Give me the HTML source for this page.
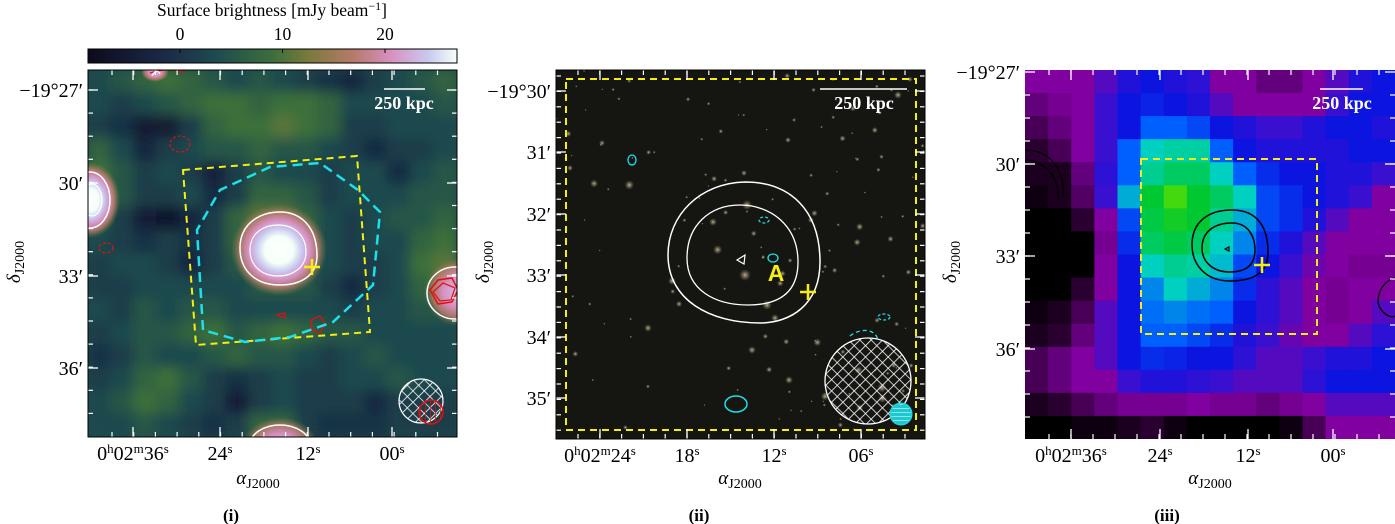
<!DOCTYPE html>
<html><head><meta charset="utf-8"><style>
html,body{margin:0;padding:0;background:#fff;width:1395px;height:524px;overflow:hidden}
svg{display:block;font-family:"Liberation Serif",serif}
</style></head><body>
<svg id="fig" width="1395" height="524" viewBox="0 0 1395 524" xmlns="http://www.w3.org/2000/svg">
<defs>
<filter id="blurA" x="-5%" y="-5%" width="110%" height="110%"><feGaussianBlur stdDeviation="6"/></filter>
<clipPath id="clipA"><rect x="88" y="70" width="369" height="367"/></clipPath>
<clipPath id="clipB"><rect x="556" y="70" width="369" height="369"/></clipPath>
<clipPath id="clipC"><rect x="1025" y="70" width="370" height="369"/></clipPath>
<linearGradient id="cbar" x1="0" x2="1" y1="0" y2="0">
<stop offset="0" stop-color="#0d0b1c"/><stop offset="0.2" stop-color="#1a2846"/><stop offset="0.35" stop-color="#1f4b4f"/><stop offset="0.5" stop-color="#3c6f3c"/><stop offset="0.6" stop-color="#7a7a3c"/><stop offset="0.72" stop-color="#b87a6a"/><stop offset="0.82" stop-color="#d88fc0"/><stop offset="0.92" stop-color="#c8c8f0"/><stop offset="1" stop-color="#f4fff8"/>
</linearGradient>
<radialGradient id="blob"><stop offset="0" stop-color="#ffffff"/><stop offset="0.3" stop-color="#f4fff8"/><stop offset="0.48" stop-color="#c8c8f0"/><stop offset="0.65" stop-color="#d88fc0"/><stop offset="0.82" stop-color="#b87a6a" stop-opacity="0.85"/><stop offset="1" stop-color="#7a7a3c" stop-opacity="0"/></radialGradient>
<radialGradient id="blobS"><stop offset="0" stop-color="#d0c0e8"/><stop offset="0.45" stop-color="#d88fc0"/><stop offset="0.75" stop-color="#b87a6a" stop-opacity="0.85"/><stop offset="1" stop-color="#7a7a3c" stop-opacity="0"/></radialGradient>
<radialGradient id="star"><stop offset="0" stop-color="#d8ccb0" stop-opacity="0.85"/><stop offset="1" stop-color="#807050" stop-opacity="0"/></radialGradient>
<pattern id="hatchW" width="8" height="8" patternUnits="userSpaceOnUse" patternTransform="rotate(45)"><path d="M0 0H8M0 0V8" stroke="#fff" stroke-width="1.6"/></pattern>
<pattern id="hatchR" width="5" height="5" patternUnits="userSpaceOnUse"><path d="M0 0V5" stroke="#e01010" stroke-width="1.5"/></pattern>
<pattern id="hatchC" width="4" height="4" patternUnits="userSpaceOnUse"><path d="M0 0H4" stroke="#fff" stroke-width="1"/></pattern>
</defs>

<!-- Panel i -->
<g>
<g clip-path="url(#clipA)"><rect x="88" y="70" width="369" height="367" fill="#1f4b4f"/><g id="mapA" filter="url(#blurA)"></g>
<ellipse cx="279" cy="250" rx="48" ry="46" fill="url(#blob)"/>
<ellipse cx="90" cy="200" rx="30" ry="38" fill="url(#blob)"/>
<ellipse cx="458" cy="292" rx="34" ry="34" fill="url(#blobS)"/>
<ellipse cx="280" cy="447" rx="38" ry="30" fill="url(#blobS)"/>
<ellipse cx="155" cy="72" rx="14" ry="10" fill="url(#blobS)"/>
</g>
<g clip-path="url(#clipA)">
<path d="M240 248 C240 222 262 212 280 212 C300 212 317 226 317 256 C317 276 300 285 280 285 C255 285 240 270 240 248Z" fill="none" stroke="#fff" stroke-width="1.5"/>
<path d="M250 250 C250 232 265 225 278 225 C295 225 306 236 306 252 C306 268 292 276 278 276 C262 276 250 266 250 250Z" fill="none" stroke="#fff" stroke-width="1.2"/>
<ellipse cx="90" cy="200" rx="20" ry="28" fill="none" stroke="#fff" stroke-width="1.5"/>
<ellipse cx="92" cy="200" rx="10" ry="16" fill="none" stroke="#fff" stroke-width="1.2"/>
<ellipse cx="280" cy="445" rx="30" ry="20" fill="none" stroke="#fff" stroke-width="1.5"/>
<ellipse cx="455" cy="293" rx="28" ry="26" fill="none" stroke="#fff" stroke-width="1.5"/>
<path d="M430 290 L438 280 L452 278 L458 290 L452 302 L438 304Z" fill="none" stroke="#e01010" stroke-width="1.5"/>
<path d="M433 292 L443 283 L455 288 L451 300 L440 301Z" fill="none" stroke="#e01010" stroke-width="1.2"/>
<ellipse cx="180" cy="144" rx="10" ry="8" fill="none" stroke="#e01010" stroke-width="1.2" stroke-dasharray="3 2"/>
<ellipse cx="106" cy="248" rx="7" ry="5" fill="none" stroke="#e01010" stroke-width="1.2" stroke-dasharray="3 2"/>
<path d="M311 320 L320 316 L325 324 L320 333 L312 330Z" fill="none" stroke="#e01010" stroke-width="1.3"/>
<path d="M277 315 L285 313 L285 318Z" fill="none" stroke="#e01010" stroke-width="1.2"/>
<path d="M150 73 C165 68 180 70 185 73" fill="none" stroke="#e01010" stroke-width="1.2"/>
<path d="M152 76 C155 70 158 70 160 74" fill="none" stroke="#fff" stroke-width="1.2"/>
<path d="M183 170 L357 156 L370 332 L196 345Z" fill="none" stroke="#f5ef10" stroke-width="2" stroke-dasharray="7 5"/>
<path d="M203 330 L197 230 L220 190 L270 167 L320 163 L358 190 L380 212 L373 285 L333 322 L290 337 L245 342 L203 330" fill="none" stroke="#1ee0e8" stroke-width="2.5" stroke-dasharray="10 6"/>
<path d="M304 267H320M312 259V275" stroke="#f5ef10" stroke-width="2.5"/>
<circle cx="421" cy="401" r="22" fill="url(#hatchW)" stroke="#fff" stroke-width="1.2"/>
<circle cx="431" cy="412" r="12" fill="url(#hatchR)" stroke="#e01010" stroke-width="1.5"/>
<path d="M384 89H425" stroke="#fff" stroke-width="1.5"/>
<text x="404" y="109" font-size="18" font-weight="bold" fill="#fff" text-anchor="middle">250 kpc</text>
</g>
<g id="ticksA"></g>
<rect x="88" y="70" width="369" height="367" fill="none" stroke="#000" stroke-width="1"/>
<rect x="88" y="49" width="369" height="14" fill="url(#cbar)" stroke="#000" stroke-width="1"/>
<g id="cbarTicks"></g>
<text x="272" y="16" font-size="17.5" text-anchor="middle">Surface brightness [mJy beam<tspan dy="-6" font-size="12">−1</tspan><tspan dy="6">]</tspan></text>
<text x="258" y="484" font-size="19" font-style="italic" text-anchor="middle">α<tspan font-style="normal" font-size="14" dy="4">J2000</tspan></text>
<text transform="translate(20,262) rotate(-90)" font-size="19" font-style="italic" text-anchor="middle">δ<tspan font-style="normal" font-size="14" dy="4">J2000</tspan></text>
<text x="231" y="521" font-size="17" font-weight="bold" text-anchor="middle">(i)</text>
</g>

<!-- Panel ii -->
<g>
<g clip-path="url(#clipB)">
<rect x="556" y="70" width="369" height="369" fill="#151612"/>
<g id="stars"></g>
<path d="M668 255 C668 215 700 183 745 182 C790 182 820 210 820 262 C820 305 790 323 760 323 C710 323 668 300 668 255Z" fill="none" stroke="#fff" stroke-width="1.5"/>
<path d="M687 258 C687 225 710 205 740 205 C770 205 798 225 798 262 C798 292 780 305 748 305 C715 305 687 290 687 258Z" fill="none" stroke="#fff" stroke-width="1.3"/>
<path d="M737 260 L745 255 L744 264Z" fill="none" stroke="#fff" stroke-width="1.2"/>
<ellipse cx="632" cy="160" rx="4" ry="5" fill="none" stroke="#1ee0e8" stroke-width="1.3"/>
<ellipse cx="773" cy="258" rx="5" ry="4" fill="none" stroke="#1ee0e8" stroke-width="1.3"/>
<ellipse cx="764" cy="220" rx="5" ry="3" fill="none" stroke="#1ee0e8" stroke-width="1.2" stroke-dasharray="3 2"/>
<ellipse cx="736" cy="404" rx="11" ry="8" fill="none" stroke="#1ee0e8" stroke-width="1.5"/>
<ellipse cx="884" cy="317" rx="6" ry="3" fill="none" stroke="#1ee0e8" stroke-width="1.2" stroke-dasharray="3 2"/>
<path d="M850 336 C860 328 875 328 878 340" fill="none" stroke="#1ee0e8" stroke-width="1.3" stroke-dasharray="4 3"/>
<rect x="566" y="79" width="350" height="351" fill="none" stroke="#f5ef10" stroke-width="2" stroke-dasharray="7 5"/>
<text x="776" y="281" font-family="Liberation Sans, sans-serif" font-size="23" font-weight="bold" fill="#f5ef10" text-anchor="middle">A</text>
<path d="M800 292H816M808 284V300" stroke="#f5ef10" stroke-width="2.5"/>
<circle cx="868" cy="381" r="43" fill="url(#hatchW)" stroke="#fff" stroke-width="1.3"/>
<circle cx="901" cy="414" r="11" fill="#1ec8d0" stroke="#1ee0e8"/>
<circle cx="901" cy="414" r="10" fill="url(#hatchC)"/>
<path d="M820 89H907" stroke="#fff" stroke-width="1.5"/>
<text x="864" y="109" font-size="18" font-weight="bold" fill="#fff" text-anchor="middle">250 kpc</text>
</g>
<g id="ticksB"></g>
<rect x="556" y="70" width="369" height="369" fill="none" stroke="#000" stroke-width="1"/>
<text x="740" y="484" font-size="19" font-style="italic" text-anchor="middle">α<tspan font-style="normal" font-size="14" dy="4">J2000</tspan></text>
<text transform="translate(489,262) rotate(-90)" font-size="19" font-style="italic" text-anchor="middle">δ<tspan font-style="normal" font-size="14" dy="4">J2000</tspan></text>
<text x="699" y="521" font-size="17" font-weight="bold" text-anchor="middle">(ii)</text>
</g>

<!-- Panel iii -->
<g>
<g clip-path="url(#clipC)">
<g id="mapC"></g>
<path d="M1025 150 C1050 150 1065 170 1063 195 M1025 160 C1045 160 1060 178 1058 200" fill="none" stroke="#000" stroke-width="1.3"/>
<path d="M1192 245 C1192 222 1208 210 1232 210 C1258 210 1268 228 1268 252 C1268 274 1252 281 1230 281 C1205 281 1192 264 1192 245Z" fill="none" stroke="#000" stroke-width="1.5"/>
<path d="M1202 248 C1202 232 1214 223 1232 223 C1248 223 1255 236 1255 250 C1255 266 1245 272 1230 272 C1213 272 1202 262 1202 248Z" fill="none" stroke="#000" stroke-width="1.5"/>
<path d="M1225 249 L1229 247 L1229 251Z" fill="none" stroke="#000" stroke-width="1.2"/>
<path d="M1395 278 C1380 282 1375 300 1380 308 C1385 316 1392 318 1395 316" fill="none" stroke="#000" stroke-width="1.3"/>
<rect x="1141" y="159" width="176" height="175" fill="none" stroke="#f5ef10" stroke-width="2" stroke-dasharray="7 5"/>
<path d="M1254 265H1270M1262 257V273" stroke="#f5ef10" stroke-width="2.5"/>
<path d="M1320 89H1363" stroke="#fff" stroke-width="1.5"/>
<text x="1342" y="109" font-size="18" font-weight="bold" fill="#fff" text-anchor="middle">250 kpc</text>
</g>
<g id="ticksC"></g>
<text x="1210" y="484" font-size="19" font-style="italic" text-anchor="middle">α<tspan font-style="normal" font-size="14" dy="4">J2000</tspan></text>
<text transform="translate(956,262) rotate(-90)" font-size="19" font-style="italic" text-anchor="middle">δ<tspan font-style="normal" font-size="14" dy="4">J2000</tspan></text>
<text x="1167" y="521" font-size="17" font-weight="bold" text-anchor="middle">(iii)</text>
</g>
</svg>
<script>
// Panel i radio map background values (normalised 0..1), 16x16 (compact sources drawn separately)
const mapAValues = [
[.35,.4,.45,.5,.45,.4,.35,.4,.35,.3,.25,.2,.3,.35,.4,.45],
[.35,.3,.35,.4,.45,.5,.5,.45,.5,.5,.45,.35,.35,.35,.35,.4],
[.3,.25,.12,.12,.3,.45,.5,.5,.55,.5,.45,.3,.3,.35,.35,.35],
[.45,.35,.2,.3,.35,.4,.4,.45,.4,.4,.35,.3,.22,.3,.3,.35],
[.5,.4,.3,.35,.3,.18,.3,.4,.35,.35,.3,.35,.35,.22,.35,.4],
[.5,.4,.3,.3,.35,.22,.3,.45,.45,.4,.3,.35,.35,.35,.4,.4],
[.4,.3,.15,.08,.2,.3,.45,.55,.55,.45,.35,.3,.35,.4,.4,.45],
[.35,.3,.25,.3,.25,.3,.45,.55,.55,.45,.35,.3,.35,.35,.45,.5],
[.3,.35,.35,.3,.2,.3,.4,.45,.45,.4,.35,.3,.3,.35,.5,.55],
[.3,.3,.35,.35,.35,.35,.35,.4,.4,.4,.3,.22,.3,.35,.45,.5],
[.35,.3,.4,.35,.4,.4,.35,.35,.35,.35,.35,.3,.35,.35,.4,.4],
[.3,.35,.4,.4,.45,.5,.4,.45,.5,.45,.4,.4,.35,.35,.35,.35],
[.25,.3,.4,.35,.35,.4,.45,.4,.4,.35,.3,.35,.4,.35,.35,.35],
[.3,.35,.45,.5,.4,.3,.25,.3,.35,.3,.3,.35,.35,.4,.35,.35],
[.35,.4,.5,.45,.35,.3,.15,.3,.35,.3,.3,.3,.22,.3,.3,.3],
[.35,.35,.4,.35,.3,.25,.3,.45,.45,.3,.25,.25,.25,.3,.3,.3]];
// Panel iii X-ray map values (normalised 0..1), 16x16
const mapCValues = [
[.3,.3,.3,.35,.42,.45,.42,.4,.3,.3,.25,.25,.3,.35,.42,.45],
[.25,.28,.3,.38,.45,.48,.45,.42,.35,.3,.3,.3,.3,.38,.45,.45],
[.2,.25,.3,.38,.45,.6,.6,.55,.45,.42,.38,.38,.42,.45,.45,.42],
[.15,.2,.3,.38,.6,.75,.78,.78,.6,.45,.42,.42,.42,.42,.45,.45],
[.1,.1,.25,.4,.6,.8,.85,.85,.75,.6,.5,.45,.45,.42,.42,.38],
[.05,.1,.22,.38,.7,.9,.97,.9,.85,.75,.55,.5,.45,.42,.38,.3],
[0,0,.15,.3,.55,.88,.92,.9,.8,.7,.55,.5,.42,.35,.3,.3],
[0,0,0,.28,.5,.85,.88,.85,.75,.65,.5,.42,.35,.3,.3,.3],
[0,0,0,.3,.45,.75,.8,.78,.72,.55,.45,.38,.32,.3,.28,.28],
[0,0,.15,.3,.45,.65,.75,.7,.65,.5,.4,.35,.3,.28,.3,.3],
[.05,.1,.2,.35,.45,.62,.65,.62,.6,.45,.4,.35,.3,.28,.3,.35],
[.1,.15,.25,.35,.45,.6,.6,.55,.5,.42,.38,.33,.3,.3,.35,.4],
[.2,.25,.3,.35,.45,.5,.48,.45,.45,.4,.35,.35,.38,.42,.42,.45],
[.2,.25,.3,.3,.38,.42,.42,.4,.38,.35,.35,.35,.4,.45,.45,.45],
[.1,.15,.2,.25,.28,.28,.28,.3,.28,.28,.25,.28,.3,.35,.35,.35],
[0,0,.05,.05,.1,.15,.05,0,0,0,0,.05,.2,.3,.3,.3]];
const cbarTickValues = [0, 10, 20];
const yTickLabelsA = ["−19°27′","30′","33′","36′"];
const yTickLabelsB = ["−19°30′","31′","32′","33′","34′","35′"];
const yTickLabelsC = ["−19°27′","30′","33′","36′"];

const NS = "http://www.w3.org/2000/svg";
function mk(tag, attrs, parent){const e=document.createElementNS(NS,tag);for(const k in attrs)e.setAttribute(k,attrs[k]);parent.appendChild(e);return e;}
function hex(c){return [parseInt(c.slice(1,3),16),parseInt(c.slice(3,5),16),parseInt(c.slice(5,7),16)];}
function cmap(stops, v){
  for(let i=1;i<stops.length;i++){ if(v<=stops[i][0]){const a=stops[i-1],b=stops[i];const t=(v-a[0])/(b[0]-a[0]||1);const ca=hex(a[1]),cb=hex(b[1]);return "rgb("+ca.map((x,j)=>Math.round(x+(cb[j]-x)*t)).join(",")+")";}}
  return stops[stops.length-1][1];
}
const stopsA=[[0,"#0d0b1c"],[.2,"#162640"],[.35,"#1d4a4e"],[.5,"#3a703a"],[.6,"#7a7a3c"],[.72,"#b87a6a"],[.82,"#d88fc0"],[.92,"#c8c8f0"],[1,"#f8fffa"]];
const stopsC=[[0,"#000000"],[.15,"#2a0030"],[.3,"#8000a0"],[.38,"#3a10d0"],[.45,"#0c14e0"],[.6,"#0060ff"],[.75,"#00d0c0"],[.9,"#00c830"],[1,"#60e000"]];

const gA=document.getElementById("mapA");
const xA=c=>88+c*369/16, yA=r=>70+r*367/16;
mapAValues.forEach((row,r)=>row.forEach((v,c)=>{
  const e=mk("rect",{x:xA(c)-1,y:yA(r)-1,width:369/16+2,height:367/16+2,fill:cmap(stopsA,v)},gA);
  
  
}));
const gC=document.getElementById("mapC");
const xC=c=>1025+c*370/16, yC=r=>70+r*369/16;
mapCValues.forEach((row,r)=>row.forEach((v,c)=>{
  const e=mk("rect",{x:xC(c),y:yC(r),width:370/16+0.6,height:369/16+0.6,fill:cmap(stopsC,v)},gC);
  
  
}));
let seed=7;function rnd(){seed=(seed*16807)%2147483647;return seed/2147483647;}
const gS=document.getElementById("stars");
for(let i=0;i<140;i++){const x=556+rnd()*369,y=70+rnd()*369,r=1+rnd()*rnd()*4;mk("circle",{cx:x,cy:y,r:r,fill:"url(#star)"},gS);}
[[745,275,6],[747,205,5],[767,305,5],[775,318,4],[713,222,4],[752,350,4],[570,168,3],[648,328,4],[789,380,4],[744,173,3],[898,95,4],[602,143,3],[672,281,4],[788,140,3]].forEach(s=>mk("circle",{cx:s[0],cy:s[1],r:s[2],fill:"url(#star)"},gS));

function ticks(g, x0,y0,w,h, xMajor, yMajor, xMinor, yMinor, xlabels, ylabels, xlabY){
  const G=document.getElementById(g);
  xMinor.forEach(x=>{mk("line",{x1:x,x2:x,y1:y0,y2:y0+5,stroke:"#fff","stroke-width":1.2},G);mk("line",{x1:x,x2:x,y1:y0+h,y2:y0+h-5,stroke:"#fff","stroke-width":1.2},G);});
  xMajor.forEach(x=>{mk("line",{x1:x,x2:x,y1:y0,y2:y0+10,stroke:"#fff","stroke-width":1.3},G);mk("line",{x1:x,x2:x,y1:y0+h,y2:y0+h-10,stroke:"#fff","stroke-width":1.3},G);});
  yMinor.forEach(y=>{mk("line",{x1:x0,x2:x0+5,y1:y,y2:y,stroke:"#fff","stroke-width":1.2},G);mk("line",{x1:x0+w,x2:x0+w-5,y1:y,y2:y,stroke:"#fff","stroke-width":1.2},G);});
  yMajor.forEach((y,i)=>{mk("line",{x1:x0,x2:x0+10,y1:y,y2:y,stroke:"#fff","stroke-width":1.3},G);mk("line",{x1:x0+w,x2:x0+w-10,y1:y,y2:y,stroke:"#fff","stroke-width":1.3},G);
    const t=mk("text",{x:x0-5,y:y+7,"font-size":20,"text-anchor":"end"},G);t.textContent=ylabels[i];
    
    });
  xlabels.forEach((l,i)=>{const t=mk("text",{x:xMajor[i],y:xlabY,"font-size":20,"text-anchor":"middle"},G);t.innerHTML=l;
    
    });
}
function range(a,b,s){const r=[];for(let v=a;v<=b;v+=s)r.push(v);return r;}
const sup=s=>'<tspan dy="-7" font-size="13">'+s+'</tspan><tspan dy="7">';
ticks("ticksA",88,70,369,367,[133,220,308,392],[90,183,276,368],range(112,456,21.7),range(90,436,23.1),
 ['0'+sup('h')+'02</tspan>'+sup('m')+'36</tspan>'+sup('s')+'</tspan>','24'+sup('s')+'</tspan>','12'+sup('s')+'</tspan>','00'+sup('s')+'</tspan>'],yTickLabelsA,460);
ticks("ticksB",556,70,369,369,[600,687,774,861],[91,152,214,275,337,398],range(578,924,21.8),range(76,438,15.4),
 ['0'+sup('h')+'02</tspan>'+sup('m')+'24</tspan>'+sup('s')+'</tspan>','18'+sup('s')+'</tspan>','12'+sup('s')+'</tspan>','06'+sup('s')+'</tspan>'],yTickLabelsB,462);
ticks("ticksC",1025,70,370,369,[1071,1160,1248,1333],[72,164,256,349],range(1049,1394,22),range(95,438,23),
 ['0'+sup('h')+'02</tspan>'+sup('m')+'36</tspan>'+sup('s')+'</tspan>','24'+sup('s')+'</tspan>','12'+sup('s')+'</tspan>','00'+sup('s')+'</tspan>'],yTickLabelsC,462);

const cb=document.getElementById("cbarTicks");
const cbX=v=>180+v*10.25;
cbarTickValues.forEach(v=>{
  mk("line",{x1:cbX(v),x2:cbX(v),y1:49,y2:53,stroke:"#000","stroke-width":1},cb);
  const t=mk("text",{x:cbX(v),y:40,"font-size":17.5,"text-anchor":"middle"},cb);t.textContent=v;
  
  
});
</script>
</body></html>
